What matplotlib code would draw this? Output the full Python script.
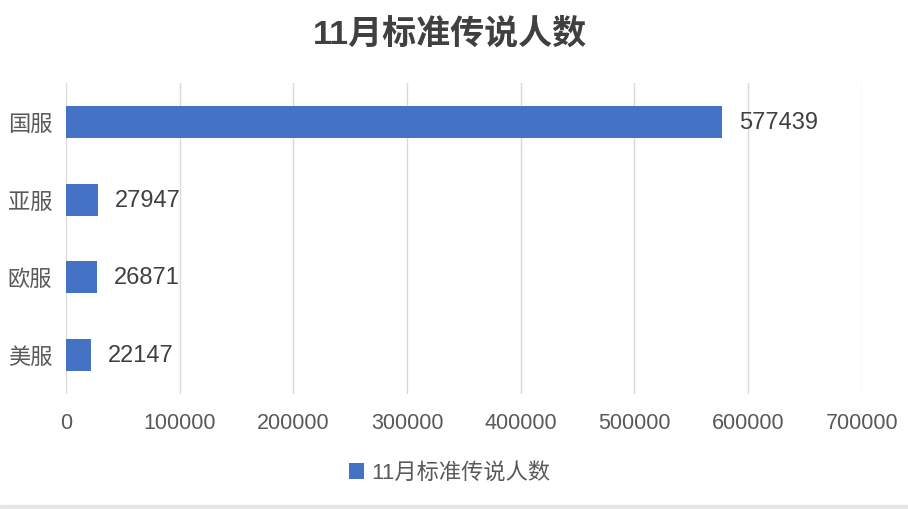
"""Horizontal bar chart: 11月标准传说人数 by server"""
import matplotlib.pyplot as plt
from matplotlib.patches import Rectangle

plt.rcParams['font.family'] = ['Liberation Sans', 'Noto Sans CJK SC', 'DejaVu Sans']

# Data
servers = ['国服', '亚服', '欧服', '美服']
players = [577439, 27947, 26871, 22147]
x_ticks = [0, 100000, 200000, 300000, 400000, 500000, 600000, 700000]
series_name = '11月标准传说人数'

bar_color = '#4472C4'
text_color = '#595959'
grid_color = '#d9d9d9'

fig = plt.figure(figsize=(9.08, 5.10), dpi=100)
ax = fig.add_axes([0.0727, 0.2255, 0.8763, 0.6095])

ypos = list(range(len(servers)))
bars = ax.barh(ypos, players, height=0.41, color=bar_color, label=series_name, zorder=3)

# Value labels to the right of each bar
for y, v in zip(ypos, players):
    ax.text(v + 15000, y, str(v), va='center', ha='left', fontsize=17, color='#404040')

ax.set_ylim(len(servers) - 0.5, -0.5)
ax.set_xlim(0, 700000)
ax.set_xticks(x_ticks)
ax.set_xticklabels([str(t) for t in x_ticks], fontsize=15.5, color=text_color)
ax.set_yticks(ypos)
ax.set_yticklabels(servers, fontsize=16, color=text_color)
ax.tick_params(axis='x', length=0, pad=13)
ax.tick_params(axis='y', length=0, pad=10)

ax.grid(axis='x', color=grid_color, linewidth=1, zorder=0)
for s in ax.spines.values():
    s.set_visible(False)

fig.suptitle(series_name, x=0.496, y=0.965, fontsize=24.5, fontweight='bold', color='#404040')

fig.legend(handles=[bars], labels=[series_name], loc='center', bbox_to_anchor=(0.495, 0.07),
           frameon=False, fontsize=16, handlelength=0.7, handleheight=0.7,
           handletextpad=0.3, labelcolor=text_color)

# thin gray strip along the bottom edge
fig.patches.append(Rectangle((0, 0), 1, 0.008, transform=fig.transFigure,
                             color='#e6e6e6', zorder=0))

fig.savefig('out.png', dpi=100)
plt.close(fig)
